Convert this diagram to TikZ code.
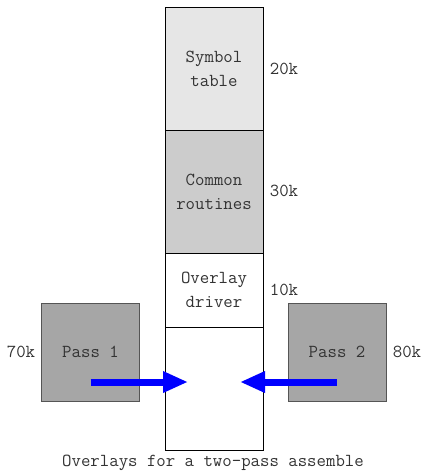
\documentclass[tikz,border=0pt]{standalone}
\usetikzlibrary{arrows.meta,calc}
\definecolor{txt}{HTML}{333333}
\definecolor{light}{HTML}{E6E6E6}
\definecolor{mid}{HTML}{CCCCCC}
\definecolor{pass}{HTML}{A6A6A6}
\definecolor{passborder}{HTML}{555555}
\begin{document}
\begin{tikzpicture}[x=1pt,y=-1pt,
  font=\ttfamily\fontsize{18.3}{24}\selectfont, text=txt,
  membox/.style={draw=black, line width=0.9pt, minimum width=98pt, inner sep=0pt, align=center, text=txt},
  passbox/.style={draw=passborder, line width=1pt, fill=pass, minimum width=98pt, minimum height=98pt, inner sep=0pt, text=txt},
  sizelbl/.style={inner sep=0pt, text=txt},
  bigarrow/.style={draw=blue, line width=7pt, -{Triangle[length=25pt,width=20pt]}}]
\useasboundingbox (0,0) rectangle (423,472);
\node[membox, fill=light, minimum height=123pt] (sym) at (214,68.5) {Symbol\\table};
\node[membox, fill=mid, minimum height=123pt] (com) at (214,191.5) {Common\\routines};
\node[membox, fill=white, minimum height=74pt] (drv) at (214,290) {Overlay\\driver};
\node[membox, fill=white, minimum height=123pt] (free) at (214,388.5) {};
\node[passbox] (p1) at (90.5,352) {Pass 1};
\node[passbox] (p2) at (337,352) {Pass 2};
\node[sizelbl] (l20) at (284,69) {20k};
\node[sizelbl] (l30) at (284,191) {30k};
\node[sizelbl] (l10) at (284,290) {10k};
\node[sizelbl] (l70) at (21,352) {70k};
\node[sizelbl] (l80) at (407,352) {80k};
\node[sizelbl] (cap) at (213,463) {Overlays for a two-pass assemble};
\coordinate (a1s) at ($(p1.center)+(0,30)$);
\coordinate (a2s) at ($(p2.center)+(0,30)$);
\coordinate (a1e) at ($(free.center)+(-26,-6.5)$);
\coordinate (a2e) at ($(free.center)+(26,-6.5)$);
\draw[bigarrow] (a1s) -- (a1e);
\draw[bigarrow] (a2s) -- (a2e);
\end{tikzpicture}
\end{document}
